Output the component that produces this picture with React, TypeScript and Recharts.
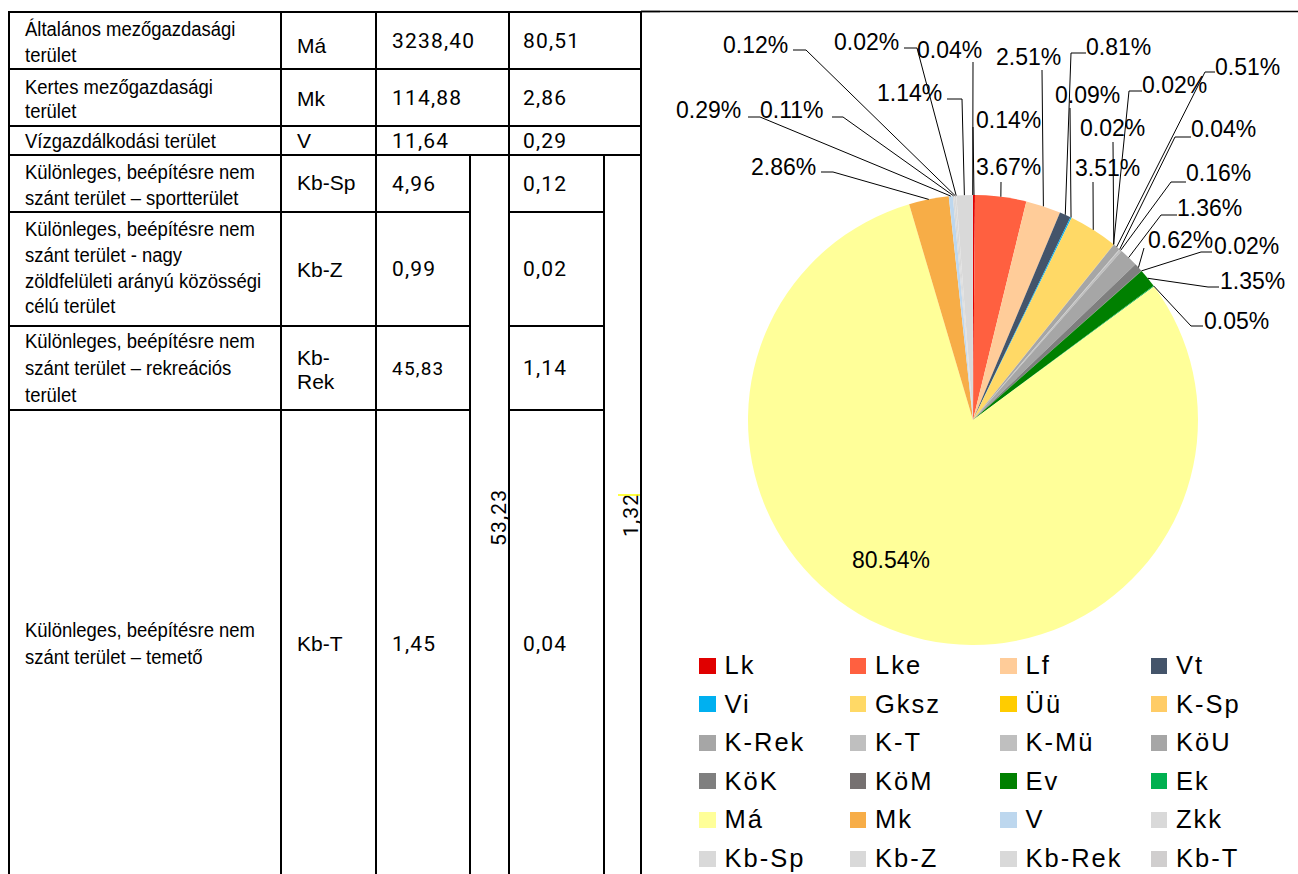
import React from 'react';
import { PieChart, Pie, Cell, Legend } from 'recharts';

// ---------- DATA ----------
const categories = ['Lk', 'Lke', 'Lf', 'Vt', 'Vi', 'Gksz', 'Üü', 'K-Sp', 'K-Rek', 'K-T', 'K-Mü', 'KöU', 'KöK', 'KöM', 'Ev', 'Ek', 'Má', 'Mk', 'V', 'Zkk', 'Kb-Sp', 'Kb-Z', 'Kb-Rek', 'Kb-T'];
const shares = [0.14, 3.67, 2.51, 0.81, 0.09, 3.51, 0.02, 0.02, 0.51, 0.04, 0.16, 1.36, 0.62, 0.02, 1.35, 0.05, 80.54, 2.86, 0.29, 0.11, 0.12, 0.02, 1.14, 0.04];
const colors = ['#E00000', '#FF6040', '#FFCC99', '#44546A', '#00B0F0', '#FFD966', '#FFCC00', '#FFCC66', '#A6A6A6', '#BFBFBF', '#BFBFBF', '#A6A6A6', '#7F7F7F', '#767171', '#008000', '#00B050', '#FFFF99', '#F7AD47', '#BDD7EE', '#D9D9D9', '#D9D9D9', '#D9D9D9', '#D9D9D9', '#D0CECE'];

const tableNames = [
  ['Általános mezőgazdasági', 'terület'],
  ['Kertes mezőgazdasági', 'terület'],
  ['Vízgazdálkodási terület'],
  ['Különleges, beépítésre nem', 'szánt terület – sportterület'],
  ['Különleges, beépítésre nem', 'szánt terület - nagy', 'zöldfelületi arányú közösségi', 'célú terület'],
  ['Különleges, beépítésre nem', 'szánt terület – rekreációs', 'terület'],
  ['Különleges, beépítésre nem', 'szánt terület – temető'],
];
const tableCodes = [['Má'], ['Mk'], ['V'], ['Kb-Sp'], ['Kb-Z'], ['Kb-', 'Rek'], ['Kb-T']];
const tableAreas = ['3238,40', '114,88', '11,64', '4,96', '0,99', '45,83', '1,45'];
const tablePercents = ['80,51', '2,86', '0,29', '0,12', '0,02', '1,14', '0,04'];
const groupArea = '53,23';
const groupPercent = '1,32';

// ---------- LAYOUT ----------
const OX = 641;
const OY = 12;
const nameBaselines = [[36, 62], [94, 118], [148], [179, 205], [236, 262, 288, 313], [348, 375, 402], [637, 664]];
const codeBaselines = [[53], [106], [148], [190], [277], [365, 389], [651]];
const numBaselines = [48, 105, 148, 191, 276, 375, 651];
const smallNumRows = [5];

// label text anchors and leader elbows (page coordinates); the leader then runs to the slice edge
const labelSpots: { tx: number; ty: number; path: number[][] }[] = [
  { tx: 976, ty: 128, path: [[973, 127]] },
  { tx: 976, ty: 175, path: [[1001, 182]] },
  { tx: 996, ty: 65, path: [[1042, 70]] },
  { tx: 1086, ty: 55, path: [[1086, 53], [1071, 53]] },
  { tx: 1055, ty: 103, path: [[1070, 108]] },
  { tx: 1075, ty: 176, path: [[1093, 182]] },
  { tx: 1142, ty: 93, path: [[1142, 91], [1129, 91]] },
  { tx: 1080, ty: 136, path: [[1113, 142]] },
  { tx: 1215, ty: 75, path: [[1215, 72], [1205, 72]] },
  { tx: 1191, ty: 137, path: [[1191, 137], [1175, 137]] },
  { tx: 1186, ty: 181, path: [[1186, 182], [1171, 182]] },
  { tx: 1177, ty: 216, path: [[1177, 215], [1161, 215]] },
  { tx: 1148, ty: 248, path: [[1144, 248]] },
  { tx: 1214, ty: 254, path: [[1212, 252], [1201, 252]] },
  { tx: 1220, ty: 289, path: [[1219, 287], [1208, 287]] },
  { tx: 1204, ty: 329, path: [[1203, 326], [1191, 326]] },
  { tx: 852, ty: 568, path: [] },
  { tx: 751, ty: 175, path: [[821, 172], [833, 172]] },
  { tx: 676, ty: 118, path: [[748, 117], [760, 117]] },
  { tx: 760, ty: 118, path: [[832, 117], [843, 117]] },
  { tx: 723, ty: 53, path: [[793, 50], [806, 50]] },
  { tx: 834, ty: 50, path: [[904, 48], [917, 48]] },
  { tx: 877, ty: 101, path: [[947, 99], [962, 99]] },
  { tx: 917, ty: 58, path: [[973, 62]] },
];

const pieData = categories.map((name, i) => ({ name, value: shares[i] }));

const NAME_FONT = '"Liberation Sans", Arial, sans-serif';
const CODE_FONT = '"Liberation Sans", Arial, sans-serif';
const NUM_FONT = 'Roboto, "Liberation Sans", sans-serif';
const LABEL_FONT = '"Liberation Sans", Arial, sans-serif';

const renderLabel = (props: any) => {
  const { cx, cy, midAngle, outerRadius, index } = props;
  const spot = labelSpots[index];
  if (!spot) return null;
  const rad = Math.PI / 180;
  const ex = cx + outerRadius * Math.cos(-midAngle * rad);
  const ey = cy + outerRadius * Math.sin(-midAngle * rad);
  const pts = spot.path.map(([x, y]) => [x - OX, y - OY]);
  const line = pts.length ? [...pts, [ex, ey]].map((p) => p.join(',')).join(' ') : '';
  return (
    <g key={`lbl-${index}`}>
      {line && <polyline points={line} fill="none" stroke="#000" strokeWidth={1} />}
      <text x={spot.tx - OX} y={spot.ty - OY} fontFamily={LABEL_FONT} fontSize={23} fill="#000">
        {`${shares[index].toFixed(2)}%`}
      </text>
    </g>
  );
};

const renderLegend = () => (
  <div
    style={{
      display: 'grid',
      gridTemplateColumns: 'repeat(4, 150.5px)',
      gridAutoRows: '38.6px',
      fontFamily: LABEL_FONT,
      fontSize: 25.5,
      letterSpacing: 2,
      color: '#000',
    }}
  >
    {categories.map((c, i) => (
      <div key={c} style={{ display: 'flex', alignItems: 'center' }}>
        <span style={{ width: 16.5, height: 16, background: colors[i], marginRight: 9, flex: 'none' }} />
        <span style={{ lineHeight: 1, whiteSpace: 'nowrap' }}>{c}</span>
      </div>
    ))}
  </div>
);

const Table = () => {
  const rowTops = [12, 69, 126, 155, 212, 326, 410];
  const vLines = [
    [9, 12, 874], [281, 12, 874], [376, 12, 874], [470, 155, 874],
    [509, 12, 874], [604, 155, 874], [641, 12, 874],
  ];
  const hLines: number[][] = [];
  rowTops.forEach((y, i) => {
    if (i <= 3) hLines.push([9, 641, y]);
    else {
      hLines.push([9, 470, y]);
      hLines.push([509, 604, y]);
    }
  });
  return (
    <svg width={660} height={874} style={{ position: 'absolute', left: 0, top: 0 }}>
      {vLines.map(([x, y1, y2], i) => (
        <line key={`v${i}`} x1={x} x2={x} y1={y1 - 1} y2={y2} stroke="#000" strokeWidth={2} />
      ))}
      {hLines.map(([x1, x2, y], i) => (
        <line key={`h${i}`} x1={x1 - 1} x2={x2 + 1} y1={y} y2={y} stroke="#000" strokeWidth={2} />
      ))}
      <line x1={641} x2={660} y1={11.5} y2={11.5} stroke="#000" strokeWidth={1.5} />
      {tableNames.map((lines, r) =>
        lines.map((t, k) => (
          <text
            key={`n${r}-${k}`}
            transform={`translate(25,${nameBaselines[r][k]}) scale(0.88,1)`}
            fontFamily={NAME_FONT}
            fontSize={21}
            fill="#000"
          >
            {t}
          </text>
        ))
      )}
      {tableCodes.map((lines, r) =>
        lines.map((t, k) => (
          <text key={`c${r}-${k}`} x={297} y={codeBaselines[r][k]} fontFamily={CODE_FONT} fontSize={21} fill="#000">
            {t}
          </text>
        ))
      )}
      {tableAreas.map((t, r) => (
        <text key={`a${r}`} x={392} y={numBaselines[r]} fontFamily={NUM_FONT} fontSize={smallNumRows.includes(r) ? 19 : 21} letterSpacing={1.2} fill="#000">
          {t}
        </text>
      ))}
      {tablePercents.map((t, r) => (
        <text key={`p${r}`} x={523} y={numBaselines[r]} fontFamily={NUM_FONT} fontSize={21} letterSpacing={1.2} fill="#000">
          {t}
        </text>
      ))}
      <text transform="translate(506,546) rotate(-90)" fontFamily={NUM_FONT} fontSize={21} letterSpacing={1.2} fill="#000">
        {groupArea}
      </text>
      <text transform="translate(638,537) rotate(-90)" fontFamily={NUM_FONT} fontSize={21} letterSpacing={1.2} fill="#000">
        {groupPercent}
      </text>
      <line x1={618} x2={640} y1={495} y2={495} stroke="#FFFF00" strokeWidth={1.5} />
    </svg>
  );
};

export default function App() {
  return (
    <div style={{ position: 'absolute', left: 0, top: 0, width: 1298, height: 874, background: '#fff', overflow: 'hidden' }}>
      <Table />
      <svg width={657} height={4} style={{ position: 'absolute', left: OX, top: 10 }}>
        <line x1={0} x2={657} y1={1.5} y2={1.5} stroke="#000" strokeWidth={1.5} />
      </svg>
      <div style={{ position: 'absolute', left: OX, top: OY }}>
        <PieChart width={657} height={862} margin={{ top: 0, right: 0, bottom: 0, left: 0 }}>
          <Pie
            data={pieData}
            dataKey="value"
            nameKey="name"
            cx={332}
            cy={408}
            outerRadius={225}
            startAngle={90}
            endAngle={-270}
            stroke="none"
            isAnimationActive={false}
            label={renderLabel}
            labelLine={false}
          >
            {pieData.map((d, i) => (
              <Cell key={d.name} fill={colors[i]} stroke="none" />
            ))}
          </Pie>
          <Legend content={renderLegend} wrapperStyle={{ left: 58, top: 634.4, width: 610 }} />
        </PieChart>
      </div>
    </div>
  );
}
